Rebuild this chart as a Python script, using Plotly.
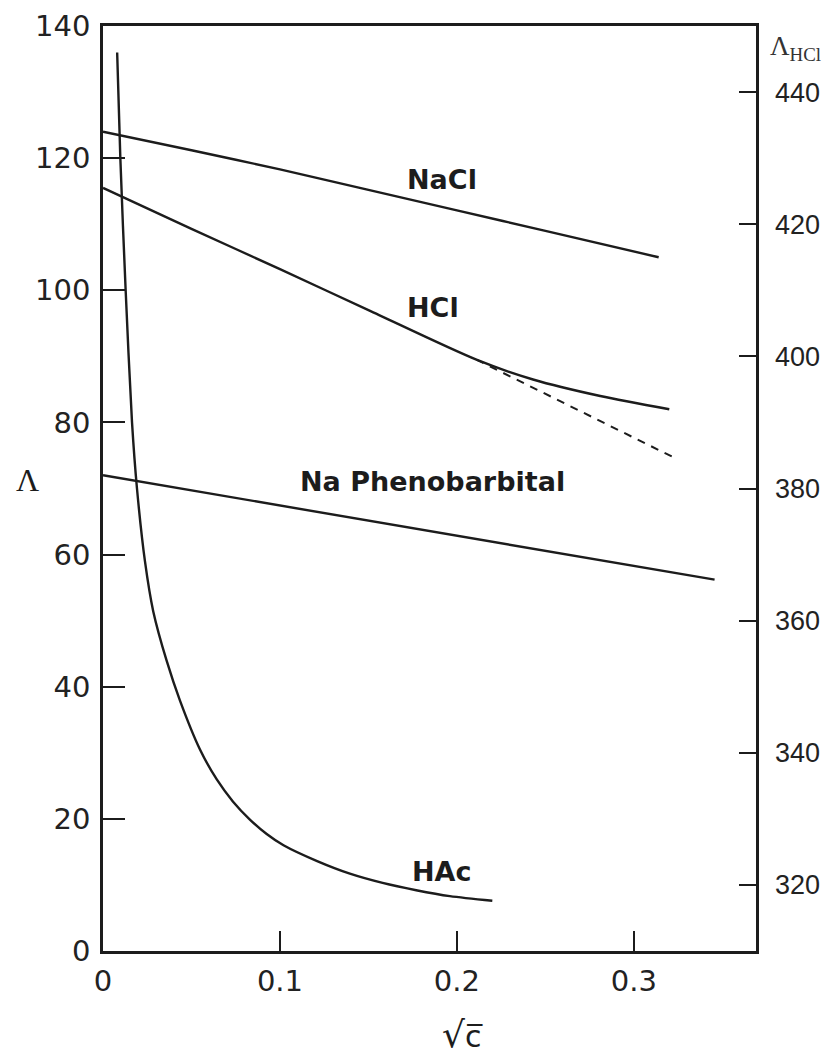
import plotly.graph_objects as go

# ---- data ----
nacl_x = [0.0, 0.05, 0.10, 0.15, 0.20, 0.25, 0.314]
nacl_y = [124.0, 121.2, 118.3, 115.2, 112.1, 109.0, 105.0]

hcl_x = [0.0, 0.05, 0.10, 0.15, 0.211, 0.243, 0.281, 0.320]
hcl_y = [115.5, 109.3, 103.2, 97.0, 89.5, 86.5, 84.0, 82.0]

hcl_lim_x = [0.211, 0.324]
hcl_lim_y = [89.5, 74.5]

naph_x = [0.0, 0.10, 0.20, 0.3456]
naph_y = [72.0, 67.4, 62.8, 56.2]

hac_x = [0.008, 0.0098, 0.0128, 0.0164, 0.0192, 0.0237, 0.0284, 0.036, 0.0435,
         0.0548, 0.0642, 0.0735, 0.083, 0.0925, 0.102, 0.121, 0.1395, 0.158,
         0.177, 0.196, 0.220]
hac_y = [136.0, 120.0, 100.0, 80.0, 70.0, 59.0, 51.4, 43.9, 37.9,
         30.5, 26.0, 22.6, 19.9, 17.7, 16.0, 13.6, 11.7, 10.3,
         9.2, 8.3, 7.6]

x_ticks = [0, 0.1, 0.2, 0.3]
x_ticktext = ["0", "0.1", "0.2", "0.3"]
y_ticks = [0, 20, 40, 60, 80, 100, 120, 140]
y2_ticks = [320, 340, 360, 380, 400, 420, 440]

labels = ["NaCl", "HCl", "Na Phenobarbital", "HAc"]
label_x = [0.1915, 0.1864, 0.1864, 0.1915]
label_y = [116.7, 97.4, 71.1, 12.1]

INK = "#1c1c1c"
LW = 2.4

fig = go.Figure()
for xs, ys, shape in [(nacl_x, nacl_y, "spline"), (hcl_x, hcl_y, "spline"),
                      (naph_x, naph_y, "linear"), (hac_x, hac_y, "spline")]:
    fig.add_trace(go.Scatter(x=xs, y=ys, mode="lines",
                             line=dict(color=INK, width=LW, shape=shape, smoothing=0.8),
                             showlegend=False, hoverinfo="skip"))
fig.add_trace(go.Scatter(x=hcl_lim_x, y=hcl_lim_y, mode="lines",
                         line=dict(color=INK, width=2.0, dash="8px,7px"),
                         showlegend=False, hoverinfo="skip"))
# invisible trace to activate the right-hand axis
fig.add_trace(go.Scatter(x=[0.0], y=[380], yaxis="y2", mode="markers",
                         marker=dict(opacity=0), showlegend=False, hoverinfo="skip"))

for t, x, y in zip(labels, label_x, label_y):
    fig.add_annotation(x=x, y=y, text=t, showarrow=False, xanchor="center", yanchor="middle",
                       font=dict(family="DejaVu Sans", size=27, color=INK, weight="bold"))

fig.add_annotation(xref="paper", yref="paper", x=-0.137, y=0.5097, text="Λ", showarrow=False,
                   font=dict(family="Liberation Serif", size=32, color=INK))
fig.add_annotation(xref="paper", yref="paper", x=0.5498, y=-0.115,
                   text="<span style='font-size:36px'>√</span>c̅", showarrow=False,
                   font=dict(family="DejaVu Sans", size=30, color=INK))
fig.add_annotation(xref="paper", yref="paper", x=1.102, y=0.997, text="Λ<sub>HCl</sub>",
                   showarrow=False,
                   font=dict(family="Liberation Serif", size=27, color="#333333"))

tickfont = dict(family="DejaVu Sans", size=29, color="#222222")
# the page body adds an 8px offset, so the figure is 8px smaller than the window
fig.update_layout(
    width=830, height=1049,
    margin=dict(l=95, r=82, t=18, b=106),
    paper_bgcolor="white", plot_bgcolor="white",
    xaxis=dict(range=[0, 0.369], tickvals=x_ticks, ticktext=x_ticktext, automargin=False,
               ticks="inside", ticklen=20, tickwidth=2, tickcolor=INK,
               showline=True, linecolor=INK, linewidth=2.5, mirror=True,
               showgrid=False, zeroline=False, tickfont=tickfont, ticklabelstandoff=2,
               ticklabeloverflow="allow"),
    yaxis=dict(range=[0, 140], tickvals=y_ticks, automargin=False,
               ticks="inside", ticklen=22, tickwidth=2, tickcolor=INK,
               showline=True, linecolor=INK, linewidth=2.5, mirror=True,
               showgrid=False, zeroline=False, tickfont=tickfont, ticklabelstandoff=4,
               ticklabeloverflow="allow"),
    yaxis2=dict(range=[310, 450], tickvals=y2_ticks, overlaying="y", side="right",
                automargin=False,
                ticks="inside", ticklen=17, tickwidth=2, tickcolor=INK,
                showline=False, showgrid=False, zeroline=False,
                tickfont=dict(family="Liberation Sans Narrow, Arial Narrow, Liberation Sans",
                              size=27, color="#222222"),
                ticklabelstandoff=18, ticklabeloverflow="allow"),
)

fig.write_html("out.html")
